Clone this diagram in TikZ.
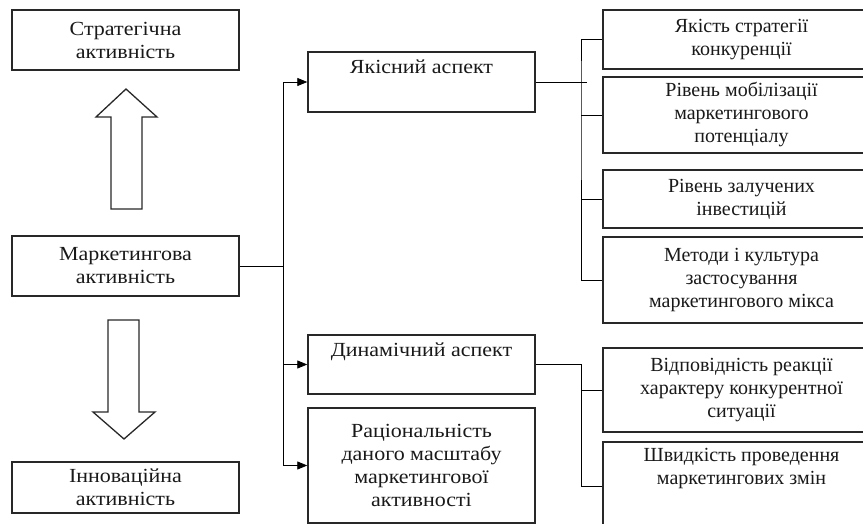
\documentclass[tikz,border=0pt]{standalone}
\usepackage{fontspec}
\setmainfont{Liberation Serif}
\newfontfamily\widefont[FakeStretch=1.1]{Liberation Serif}
\usetikzlibrary{arrows.meta,positioning,calc}
\definecolor{boxgray}{RGB}{40,40,40}
\tikzset{
    block/.style={
        rectangle,
        draw=boxgray,
        line width=1.4pt,
        align=center,
        inner sep=0pt,
        text=black!90,
        font=\fontsize{20}{23}\selectfont,
    },
    side/.style={
        block,
        minimum width=227pt,
        font=\widefont\fontsize{20}{23}\selectfont,
    },
    item/.style={
        block,
        minimum width=277pt,
    },
    link/.style={
        draw=black,
        line width=0.8pt,
    },
    feed/.style={
        link,
        -{Triangle[length=10pt,width=8pt]},
    },
    fatarrow/.style={
        draw=boxgray,
        line width=1.3pt,
        fill=white,
    },
  }

\begin{document}
\begin{tikzpicture}[x=1pt,y=-1pt]
              \useasboundingbox (0,0) rectangle (863,524);
              \clip (0,0) rectangle (863,524);

              \node [side,minimum height=60pt] (strat) at (125.5,40) {Стратегічна\\активність};
              \node [side,minimum height=60pt] (mark) at (125.5,266) {Маркетингова\\активність};
              \node [side,minimum height=51pt] (innov) at (125.5,487.5) {Інноваційна\\активність};

              \node [side,minimum height=60pt] (quality) at (421.5,82) {Якісний аспект\\\strut};
              \node [side,minimum height=59pt] (dyn) at (421.5,364.5) {Динамічний аспект\\\strut};
              \node [side,minimum height=115pt] (rat) at (421.5,465.5) {Раціональність\\даного масштабу\\маркетингової\\активності};

              \node [item,minimum height=59pt] (r1) at (741.5,39.5) {Якість стратегії\\конкуренції};
              \node [item,minimum height=76pt] (r2) at (741.5,115) {Рівень мобілізації\\маркетингового\\потенціалу};
              \node [item,minimum height=58pt] (r3) at (741.5,199) {Рівень залучених\\інвестицій};
              \node [item,minimum height=86pt] (r4) at (741.5,280) {Методи і культура\\застосування\\маркетингового мікса};
              \node [item,minimum height=84pt] (r5) at (741.5,390) {Відповідність реакції\\характеру конкурентної\\ситуації};
              \node [item,minimum height=88pt] (r6) at (741.5,486) {Швидкість проведення\\маркетингових змін\\[10pt]\strut};

              % up and down arrows
              \draw[fatarrow] (111,209) -- (111,117) -- (96,117) -- (126,89) -- (157,117) -- (142,117) -- (142,209) -- cycle;
              \draw[fatarrow] (108,320) -- (108,412) -- (93,412) -- (124,439) -- (155,412) -- (139,412) -- (139,320) -- cycle;

              \coordinate (split) at (283,266);
              \draw[link] (mark.east) -- (split);
              \draw[feed] (split) |- (quality.west);
              \draw[feed] (split) |- (dyn.west);
              \draw[feed] (split) |- (rat.west);

              \coordinate (qbus) at (581,82);
              \draw[link] (quality.east) -- ([xshift=6pt]qbus);
              \draw[link] (r1.west) -| (qbus) |- (r4.west);
              \draw[link] (qbus |- r2.west) -- (r2.west);
              \draw[link] (qbus |- r3.west) -- (r3.west);

              \coordinate (dbus) at (581,364.5);
              \draw[link] (dyn.east) -- (dbus) |- (r6.west);
              \draw[link] (dbus |- r5.west) -- (r5.west);
            \end{tikzpicture}
\end{document}
